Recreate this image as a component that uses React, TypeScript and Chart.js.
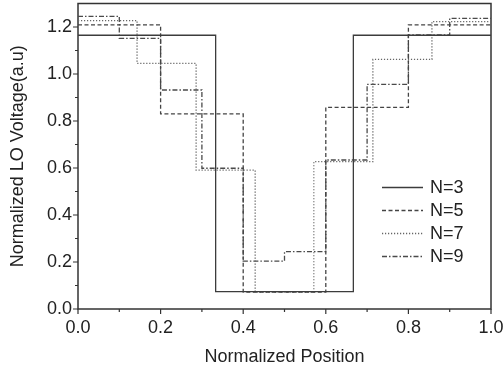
import React, { useEffect, useRef } from 'react';
import { Chart, registerables } from 'chart.js';

Chart.register(...registerables);

// ---- data ----
const seriesNames = ['N=3', 'N=5', 'N=7', 'N=9'];

const n3Edges = [0, 0.3333, 0.6667, 1];
const n3Levels = [1.165, 0.074, 1.165];

const n5Edges = [0, 0.2, 0.4, 0.6, 0.8, 1];
const n5Levels = [1.209, 0.83, 0.072, 0.858, 1.209];

const n7Edges = [0, 0.143, 0.286, 0.429, 0.571, 0.714, 0.857, 1];
const n7Levels = [1.227, 1.045, 0.591, 0.072, 0.627, 1.062, 1.223];

const n9Edges = [0, 0.1, 0.2, 0.3, 0.4, 0.5, 0.6, 0.7, 0.8, 0.9, 1];
const n9Levels = [1.245, 1.152, 0.932, 0.599, 0.204, 0.244, 0.634, 0.956, 1.166, 1.237];

const xTickValues = [0, 0.2, 0.4, 0.6, 0.8, 1.0];
const xTickLabels = ['0.0', '0.2', '0.4', '0.6', '0.8', '1.0'];
const yTickValues = [0, 0.2, 0.4, 0.6, 0.8, 1.0, 1.2];
const yTickLabels = ['0.0', '0.2', '0.4', '0.6', '0.8', '1.0', '1.2'];

const xTitle = 'Normalized Position';
const yTitle = 'Normalized LO Voltage(a.u)';

const FONT = '"Liberation Sans", Arial, Helvetica, sans-serif';

function toSteps(edges: number[], levels: number[]) {
  return edges.map((x, i) => ({ x, y: levels[Math.min(i, levels.length - 1)] }));
}

const styles = [
  { color: '#3c3c3c', dash: [] as number[], width: 1.3 },
  { color: '#444', dash: [4, 2.5], width: 1.3 },
  { color: '#666', dash: [1.2, 1.8], width: 1.3 },
  { color: '#4a4a4a', dash: [5, 2, 1.5, 2], width: 1.3 },
];

const framePlugin = {
  id: 'frame',
  beforeDatasetsDraw(chart: any) {
    const { ctx, chartArea } = chart;
    const { left, right, top, bottom } = chartArea;
    const xs = chart.scales.x;
    const ys = chart.scales.y;
    ctx.save();
    ctx.strokeStyle = '#333';
    ctx.lineWidth = 1.5;
    ctx.strokeRect(left, top, right - left, bottom - top);
    ctx.lineWidth = 1.2;
    ctx.beginPath();
    xTickValues.forEach((v, i) => {
      const px = xs.getPixelForValue(v);
      ctx.moveTo(px, bottom);
      ctx.lineTo(px, bottom + 5);
      if (i < xTickValues.length - 1) {
        const mx = xs.getPixelForValue((v + xTickValues[i + 1]) / 2);
        ctx.moveTo(mx, bottom);
        ctx.lineTo(mx, bottom + 3);
      }
    });
    yTickValues.forEach((v, i) => {
      const py = ys.getPixelForValue(v);
      ctx.moveTo(left, py);
      ctx.lineTo(left - 5, py);
      if (i < yTickValues.length - 1) {
        const my = ys.getPixelForValue((v + yTickValues[i + 1]) / 2);
        ctx.moveTo(left, my);
        ctx.lineTo(left - 3, my);
      }
    });
    ctx.stroke();
    ctx.restore();
  },
};

const legendPlugin = {
  id: 'customLegend',
  afterDatasetsDraw(chart: any) {
    const { ctx, chartArea } = chart;
    const x0 = chartArea.right - 109;
    const y0 = chartArea.top + 184;
    const rowH = 23;
    ctx.save();
    chart.data.datasets.forEach((ds: any, i: number) => {
      const y = y0 + i * rowH;
      ctx.beginPath();
      ctx.strokeStyle = ds.borderColor;
      ctx.lineWidth = ds.borderWidth;
      ctx.setLineDash(ds.borderDash || []);
      ctx.moveTo(x0, y);
      ctx.lineTo(x0 + 41, y);
      ctx.stroke();
      ctx.setLineDash([]);
      ctx.fillStyle = '#222';
      ctx.font = `18px ${FONT}`;
      ctx.textAlign = 'left';
      ctx.textBaseline = 'middle';
      ctx.fillText(ds.label, x0 + 48, y + 1);
    });
    ctx.restore();
  },
};

function zeroPad(s: any) {
  s.paddingLeft = 0;
  s.paddingRight = 0;
  s.paddingTop = 0;
  s.paddingBottom = 0;
}

export default function App() {
  const ref = useRef<HTMLCanvasElement | null>(null);

  useEffect(() => {
    if (!ref.current) return;
    const allEdges = [n3Edges, n5Edges, n7Edges, n9Edges];
    const allLevels = [n3Levels, n5Levels, n7Levels, n9Levels];
    const chart = new Chart(ref.current, {
      type: 'line',
      data: {
        datasets: seriesNames.map((name, i) => ({
          label: name,
          data: toSteps(allEdges[i], allLevels[i]),
          stepped: 'before',
          borderColor: styles[i].color,
          borderWidth: styles[i].width,
          borderDash: styles[i].dash,
          pointRadius: 0,
          fill: false,
        })),
      },
      options: {
        animation: false,
        responsive: false,
        devicePixelRatio: 1,
        layout: { autoPadding: false, padding: { top: 3.5, right: 13, left: 0, bottom: 0 } },
        plugins: { legend: { display: false }, tooltip: { enabled: false } },
        scales: {
          x: {
            type: 'linear',
            min: 0,
            max: 1,
            afterFit: (s: any) => { s.height = 65; zeroPad(s); },
            afterBuildTicks: (s: any) => { s.ticks = xTickValues.map((v) => ({ value: v })); },
            ticks: {
              autoSkip: false,
              maxRotation: 0,
              padding: 8,
              color: '#222',
              font: { family: FONT, size: 18 },
              callback: (_v: any, i: number) => xTickLabels[i],
            },
            grid: { display: false, drawTicks: false },
            border: { display: false },
            title: {
              display: true,
              text: xTitle,
              color: '#222',
              font: { family: FONT, size: 18, lineHeight: 1 },
              padding: { top: 0, bottom: 8 },
            },
          },
          y: {
            type: 'linear',
            min: 0,
            max: 1.3,
            afterFit: (s: any) => { s.width = 78; zeroPad(s); },
            afterBuildTicks: (s: any) => { s.ticks = yTickValues.map((v) => ({ value: v })); },
            ticks: {
              autoSkip: false,
              padding: 6,
              color: '#222',
              font: { family: FONT, size: 18 },
              callback: (_v: any, i: number) => yTickLabels[i],
            },
            grid: { display: false, drawTicks: false },
            border: { display: false },
            title: {
              display: true,
              text: yTitle,
              color: '#222',
              font: { family: FONT, size: 18, lineHeight: 1 },
              padding: { top: 9, bottom: 0 },
            },
          },
        },
      },
      plugins: [framePlugin, legendPlugin],
    } as any);
    return () => chart.destroy();
  }, []);

  return (
    <div style={{ position: 'fixed', left: 0, top: 0, width: 504, height: 374, background: '#fff' }}>
      <canvas ref={ref} width={504} height={374} style={{ display: 'block', width: 504, height: 374 }} />
    </div>
  );
}
